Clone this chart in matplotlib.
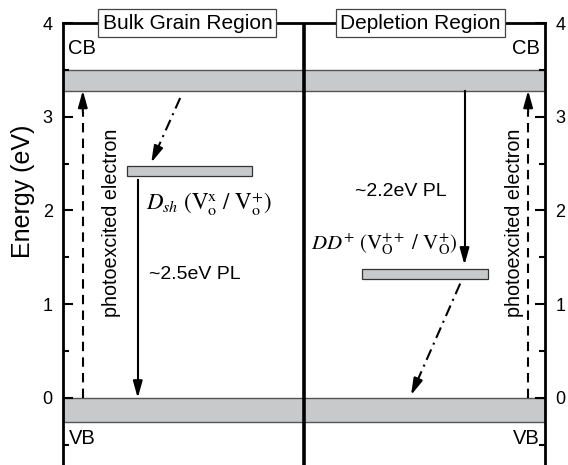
import matplotlib
matplotlib.use("Agg")
import matplotlib.pyplot as plt
from matplotlib.patches import Rectangle
from matplotlib.ticker import MultipleLocator

plt.rcParams.update({
    "font.family": ["Liberation Sans", "DejaVu Sans"],
    "mathtext.fontset": "stix",
})

# band edges (eV)
cb_band = [3.28, 3.50]
vb_band = [-0.26, 0.0]

# defect levels: x span and energy span
dsh_x = [0.132, 0.393]
dsh_e = [2.37, 2.475]
dd_x = [0.621, 0.881]
dd_e = [1.266, 1.373]

# transitions: (x0, e0, x1, e1)
pump_left = [0.041, 0.0, 0.041, 3.28]
pump_right = [0.965, 0.0, 0.965, 3.28]
trap_left = [0.243, 3.20, 0.183, 2.51]
pl_left = [0.155, 2.33, 0.155, 0.0]
pl_right = [0.833, 3.28, 0.833, 1.42]
trap_right = [0.824, 1.22, 0.722, 0.03]

band_grey = "#c8c9cb"
edge_grey = "#555555"

fig = plt.figure(figsize=(5.68, 4.65), dpi=100)
ax = fig.add_axes([0.111, 0.0, 0.8485, 0.9505])
ax.set_xlim(0, 1)
ax.set_ylim(-0.715, 4)

for band in (cb_band, vb_band):
    ax.add_patch(Rectangle((0, band[0]), 1, band[1] - band[0],
                           facecolor=band_grey, edgecolor=edge_grey, lw=1.0, zorder=1))

for xs, es in ((dsh_x, dsh_e), (dd_x, dd_e)):
    ax.add_patch(Rectangle((xs[0], es[0]), xs[1] - xs[0], es[1] - es[0],
                           facecolor=band_grey, edgecolor="#333333", lw=0.9, zorder=2))

# divider between the two regions
ax.plot([0.5, 0.5], [-0.715, 4], color="k", lw=2.6, zorder=3)


def arrow(seg, dashes=None):
    x0, y0, x1, y1 = seg
    frac = 0.93 if abs(y1 - y0) > 1.5 else 0.88
    xm = x0 + (x1 - x0) * frac
    ym = y0 + (y1 - y0) * frac
    line, = ax.plot([x0, xm], [y0, ym], color="k", lw=1.5, zorder=4)
    if dashes:
        line.set_dashes(dashes)
    ax.annotate("", xy=(x1, y1), xytext=(xm, ym),
                arrowprops=dict(arrowstyle="-|>,head_length=1.0,head_width=0.28",
                                color="k", lw=1.5, shrinkA=0, shrinkB=0,
                                mutation_scale=10),
                zorder=5)


arrow(pump_left, dashes=[4.5, 3])
arrow(pump_right, dashes=[4.5, 3])
arrow(trap_left, dashes=[5.5, 2.5, 1, 2.5])
arrow(trap_right, dashes=[5.5, 2.5, 1, 2.5])
arrow(pl_left)
arrow(pl_right)

# labels
ax.text(0.010, 3.73, "CB", fontsize=14.5, ha="left", va="center")
ax.text(0.990, 3.73, "CB", fontsize=14.5, ha="right", va="center")
ax.text(0.012, -0.43, "VB", fontsize=14.5, ha="left", va="center")
ax.text(0.988, -0.43, "VB", fontsize=14.5, ha="right", va="center")

ax.text(0.1, 1.87, "photoexcited electron", rotation=90, fontsize=14.2,
        ha="center", va="center")
ax.text(0.936, 1.87, "photoexcited electron", rotation=90, fontsize=14.2,
        ha="center", va="center")

ax.text(0.178, 1.32, "~2.5eV PL", fontsize=14, ha="left", va="center")
ax.text(0.606, 2.20, "~2.2eV PL", fontsize=14, ha="left", va="center")

ax.text(0.172, 2.06,
        r"$D_{sh}\ (\mathrm{V}_{\mathrm{o}}^{\mathrm{x}}\ /\ \mathrm{V}_{\mathrm{o}}^{+})$",
        fontsize=16.5, ha="left", va="center")
ax.text(0.515, 1.64,
        r"$DD^{+}\ (\mathrm{V}_{\mathrm{O}}^{++}\ /\ \mathrm{V}_{\mathrm{O}}^{+})$",
        fontsize=15, ha="left", va="center")

box = dict(boxstyle="square,pad=0.2", facecolor="white", edgecolor="#444444", lw=0.9)
ax.text(0.258, 4.0, "Bulk Grain Region", fontsize=15, ha="center", va="center",
        bbox=box, zorder=6, clip_on=False)
ax.text(0.741, 4.0, "Depletion Region", fontsize=15, ha="center", va="center",
        bbox=box, zorder=6, clip_on=False)

# axes frame and ticks
ax.spines["bottom"].set_visible(False)
for side in ("left", "right", "top"):
    ax.spines[side].set_linewidth(2.0)
ax.xaxis.set_visible(False)
ax.yaxis.set_major_locator(MultipleLocator(1))
ax.yaxis.set_minor_locator(MultipleLocator(0.5))
ax.tick_params(axis="y", which="both", direction="in", left=True, right=True,
               labelleft=True, labelright=True, labelsize=13, width=1.5, pad=7.5)
ax.tick_params(axis="y", which="major", length=7)
ax.tick_params(axis="y", which="minor", length=4)
ax.set_ylabel("Energy (eV)", fontsize=18)
ax.yaxis.set_label_coords(-0.058, 0.62)

fig.savefig("out.png", dpi=100)
